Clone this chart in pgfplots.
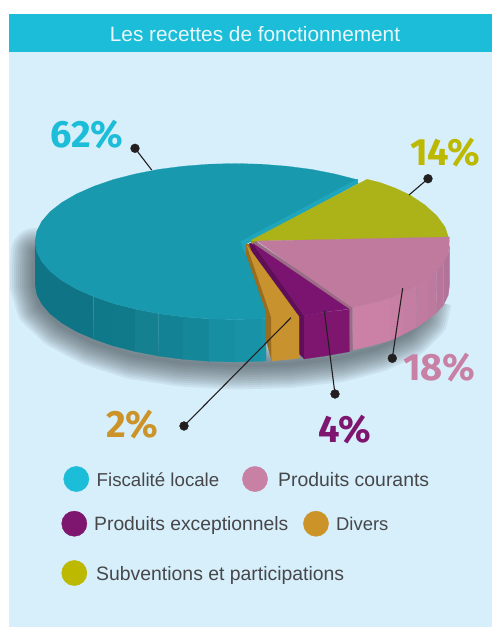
\documentclass[border=0pt]{standalone}
\usepackage{fontspec}
\usepackage{pgfplots}
\pgfplotsset{compat=1.18}
\setmainfont{Liberation Sans}
\newfontfamily\pct{Fira Sans}

\definecolor{panel}{HTML}{D6EFFB}
\definecolor{bar}{HTML}{1CBDD8}
\definecolor{tealtop}{HTML}{1899AE}
\definecolor{tealstrip}{HTML}{1FA6BC}
\definecolor{greentop}{HTML}{ABB319}
\definecolor{greendark}{HTML}{8F9A14}
\definecolor{pinktop}{HTML}{C07A9D}
\definecolor{pinkside}{HTML}{9C6C87}
\definecolor{purpletop}{HTML}{7B1470}
\definecolor{purplefront}{HTML}{7E1670}
\definecolor{purpledark}{HTML}{5F0F58}
\definecolor{orangetop}{HTML}{C8922F}
\definecolor{orangedark}{HTML}{9A6C1E}
\definecolor{ink}{HTML}{231F20}
\definecolor{legtext}{HTML}{47474A}
\definecolor{shadowc}{HTML}{3C4448}
\definecolor{lteal}{HTML}{1CBDD8}
\definecolor{lpink}{HTML}{C880A5}
\definecolor{lpurple}{HTML}{7E1670}
\definecolor{lorange}{HTML}{CC9329}
\definecolor{lgreen}{HTML}{BDB800}
% wall bands, dark to light
\definecolor{wa}{HTML}{0F7586}
\definecolor{wb}{HTML}{0F7989}
\definecolor{wc}{HTML}{107A8B}
\definecolor{wd}{HTML}{15808F}
\definecolor{we}{HTML}{138294}
\definecolor{wf}{HTML}{148798}
\definecolor{wg}{HTML}{178FA3}
\definecolor{wh}{HTML}{1792A6}
\definecolor{wi}{HTML}{1A96AA}
\definecolor{pa}{HTML}{CB80A5}
\definecolor{pb}{HTML}{C87FA4}
\definecolor{pc}{HTML}{C57EA3}
\definecolor{pd}{HTML}{C17BA0}
\definecolor{pe}{HTML}{BD799E}
\definecolor{pf}{HTML}{B8769B}
\definecolor{pg}{HTML}{B17398}

\pgfplotsset{
  face/.style={fill=#1,draw=#1,line width=.2pt,mark=none,forget plot},
  soft/.style={draw=shadowc,line width=#1,line join=round,draw opacity=.07,mark=none,forget plot},
  leader/.style={draw=ink,line width=1.1pt,mark=none,forget plot},
  dot/.style={only marks,mark=*,mark size=4.4pt,mark options={fill=ink,draw=ink},forget plot},
  key/.style={only marks,mark=*,mark size=12.6pt,mark options={fill=#1,draw=#1},forget plot},
}

\pgfplotstableread{
x y
428 300
424 318
408 334
378 348
340 358
290 364
232 365.5
180 362.5
132 355
92 342
60 325
40 306
34 285
34 268
35 252
60 262
120 275
232 275
340 275
405 280
428 300
}\shadowline

\begin{document}
\begin{tikzpicture}
\begin{axis}[
    hide axis,
    scale only axis,
    width=492pt,
    height=627pt,
    xmin=0, xmax=492,
    ymin=0, ymax=627,
    y dir=reverse,
]
% page and panel
\addplot[face=white] coordinates {(0,0) (492,0) (492,627) (0,627) (0,0)};
\addplot[face=panel] coordinates {(9,14) (492,14) (492,627) (9,627) (9,14)};
\addplot[face=bar] coordinates {(9,14) (492,14) (492,51) (9,51) (9,14)};

% soft shadow, same outline stroked several times
\addplot[soft=48pt] table {\shadowline};
\addplot[soft=44pt] table {\shadowline};
\addplot[soft=40pt] table {\shadowline};
\addplot[soft=36pt] table {\shadowline};
\addplot[soft=32pt] table {\shadowline};
\addplot[soft=28pt] table {\shadowline};
\addplot[soft=24pt] table {\shadowline};
\addplot[soft=20pt] table {\shadowline};
\addplot[soft=16pt] table {\shadowline};
\addplot[soft=12pt] table {\shadowline};
\addplot[soft=8pt] table {\shadowline};
\addplot[soft=4pt] table {\shadowline};

% 62% wall
\addplot[face=wa] coordinates {
(35,241.5) (36.8,251.7) (41.8,261.7) (50.2,271.4) (61.8,280.5) (76.4,289) (93.6,296.6)
(93.6,339.1) (76.4,331.5) (61.8,323) (50.2,313.9) (41.8,304.2) (36.8,294.2) (35,284)};
\addplot[face=wb] coordinates {(93.6,296.6) (113.2,303.4) (113.2,345.9) (93.6,339.1)};
\addplot[face=wc] coordinates {(113.2,303.4) (135,309) (135,351.5) (113.2,345.9)};
\addplot[face=wd] coordinates {(135,309) (158.4,313.6) (158.4,356.1) (135,351.5)};
\addplot[face=we] coordinates {(158.4,313.6) (183.2,316.8) (183.2,359.3) (158.4,356.1)};
\addplot[face=wf] coordinates {(183.2,316.8) (208.8,318.8) (208.8,361.3) (183.2,359.3)};
\addplot[face=wg] coordinates {(208.8,318.8) (235,319.5) (235,362) (208.8,361.3)};
\addplot[face=wh] coordinates {(235,319.5) (261.2,318.8) (261.2,361.3) (235,362)};
\addplot[face=wi] coordinates {(261.2,318.8) (266,318.5) (266,361) (261.2,361.3)};

% 62% top
\addplot[face=tealtop] coordinates {
(358,180) (356.8,179.6) (335,174) (311.6,169.4) (286.8,166.2) (261.2,164.2) (235,163.5)
(208.8,164.2) (183.2,166.2) (158.4,169.4) (135,174) (113.2,179.6) (93.6,186.4) (76.4,194)
(61.8,202.5) (50.2,211.6) (41.8,221.3) (36.8,231.3) (35,241.5) (36.8,251.7) (41.8,261.7)
(50.2,271.4) (61.8,280.5) (76.4,289) (93.6,296.6) (113.2,303.4) (135,309) (158.4,313.6)
(183.2,316.8) (208.8,318.8) (235,319.5) (261.2,318.8) (270,318.3) (248,250) (242,242) (358,180)};
\addplot[face=tealstrip] coordinates {(357.5,179) (358,183.5) (252,241) (246,244) (246,254) (243,249) (240.5,241.5) (357.5,179)};

% 14%
\addplot[face=greendark] coordinates {(251,240) (251,248) (258,244) (257,241) (251,240)};
\addplot[face=greentop] coordinates {
(251.5,240) (367,179.3) (380,182.5) (395,188) (410,195) (425,205) (437,216) (445,227) (448,236) (449,238) (252,241) (251.5,240)};

% 18% wall
\addplot[face=pa] coordinates {(352.5,307.5) (371,303.5) (390,298) (390,340.5) (371,346) (352.7,350)};
\addplot[face=pb] coordinates {(390,298) (403,292) (403,334.5) (390,340.5)};
\addplot[face=pc] coordinates {(403,292) (416.7,285) (416.7,327.5) (403,334.5)};
\addplot[face=pd] coordinates {(416.7,285) (428,277.5) (428,319.5) (416.7,327.5)};
\addplot[face=pe] coordinates {(428,277.5) (436.7,270) (436.7,312.5) (428,319.5)};
\addplot[face=pf] coordinates {(436.7,270) (443.5,262) (443.5,305) (436.7,312.5)};
\addplot[face=pg] coordinates {(443.5,262) (448.3,253) (449.5,246) (449.5,285) (448.3,295) (443.5,305)};
% 18% top
\addplot[face=pinkside] coordinates {(256,241.5) (352.7,307.5) (352.7,350) (349.3,351) (349.3,310.5) (252,244) (256,241.5)};
\addplot[face=pinktop] coordinates {
(257,241) (449.5,237) (449,246) (448.3,253) (443.5,262) (436.7,270) (428,277.5) (416.7,285)
(403,292) (390,298) (371,303.5) (352.5,307.5) (257,241)};

% 4%
\addplot[face=purpledark] coordinates {(250,243) (254,245) (304.5,316) (304.5,359) (299.3,354) (298,318) (247,247) (250,243)};
\addplot[face=purpletop] coordinates {(253,243.5) (349,309) (337,310.5) (325,312) (304.5,316) (253,243.5)};
\addplot[face=purplefront] coordinates {(304,316) (325,312) (349.3,309.5) (349.3,351.7) (325,356) (304,359) (304,316)};

% 2%
\addplot[face=orangedark] coordinates {(246,244) (246,254) (266,311.7) (266,340) (271.7,360.7) (271.7,315) (249,244) (246,244)};
\addplot[face=orangetop] coordinates {(246.7,245) (299,316.7) (299,358.3) (271.7,361) (271.7,318.3) (246.7,245)};

% leaders
\addplot[leader] coordinates {(135,148.3) (151.7,170)};
\addplot[leader] coordinates {(428,178.7) (409,195)};
\addplot[leader] coordinates {(392.3,358.3) (402.7,288)};
\addplot[leader] coordinates {(335,394) (324.3,310.7)};
\addplot[leader] coordinates {(184,426) (291,317.7)};
\addplot[dot] coordinates {(135,148.3) (428,178.7) (392.3,358.3) (335,394) (184,426)};

% legend dots
\addplot[key=lteal] coordinates {(76.3,479)};
\addplot[key=lpink] coordinates {(255,479)};
\addplot[key=lpurple] coordinates {(74.3,523.7)};
\addplot[key=lorange] coordinates {(316,523.7)};
\addplot[key=lgreen] coordinates {(74.3,573)};

% texts
\node[anchor=base,text=white!90!bar,font=\fontsize{20.8}{24}\selectfont] at (axis cs:255,41) {Les recettes de fonctionnement};
\node[anchor=base west,inner sep=0pt,text=lteal,font=\pct\bfseries\fontsize{38}{40}\selectfont] at (axis cs:50,147) {62\%};
\node[anchor=base west,inner sep=0pt,text=lgreen,font=\pct\bfseries\fontsize{38}{40}\selectfont] at (axis cs:410,165) {14\%};
\node[anchor=base west,inner sep=0pt,text=lpink,font=\pct\bfseries\fontsize{38}{40}\selectfont] at (axis cs:403,380) {18\%};
\node[anchor=base west,inner sep=0pt,text=lpurple,font=\pct\bfseries\fontsize{38}{40}\selectfont] at (axis cs:318,442) {4\%};
\node[anchor=base west,inner sep=0pt,text=lorange,font=\pct\bfseries\fontsize{38}{40}\selectfont] at (axis cs:106,437) {2\%};

\node[anchor=base west,inner sep=0pt,text=legtext,font=\fontsize{18.7}{23}\selectfont] at (axis cs:96.5,486) {Fiscalité locale};
\node[anchor=base west,inner sep=0pt,text=legtext,font=\fontsize{19.4}{23}\selectfont] at (axis cs:278,486) {Produits courants};
\node[anchor=base west,inner sep=0pt,text=legtext,font=\fontsize{19.3}{23}\selectfont] at (axis cs:94,530) {Produits exceptionnels};
\node[anchor=base west,inner sep=0pt,text=legtext,font=\fontsize{18.4}{23}\selectfont] at (axis cs:336,530) {Divers};
\node[anchor=base west,inner sep=0pt,text=legtext,font=\fontsize{19.4}{23}\selectfont] at (axis cs:96,580) {Subventions et participations};
\end{axis}
\end{tikzpicture}
\end{document}
